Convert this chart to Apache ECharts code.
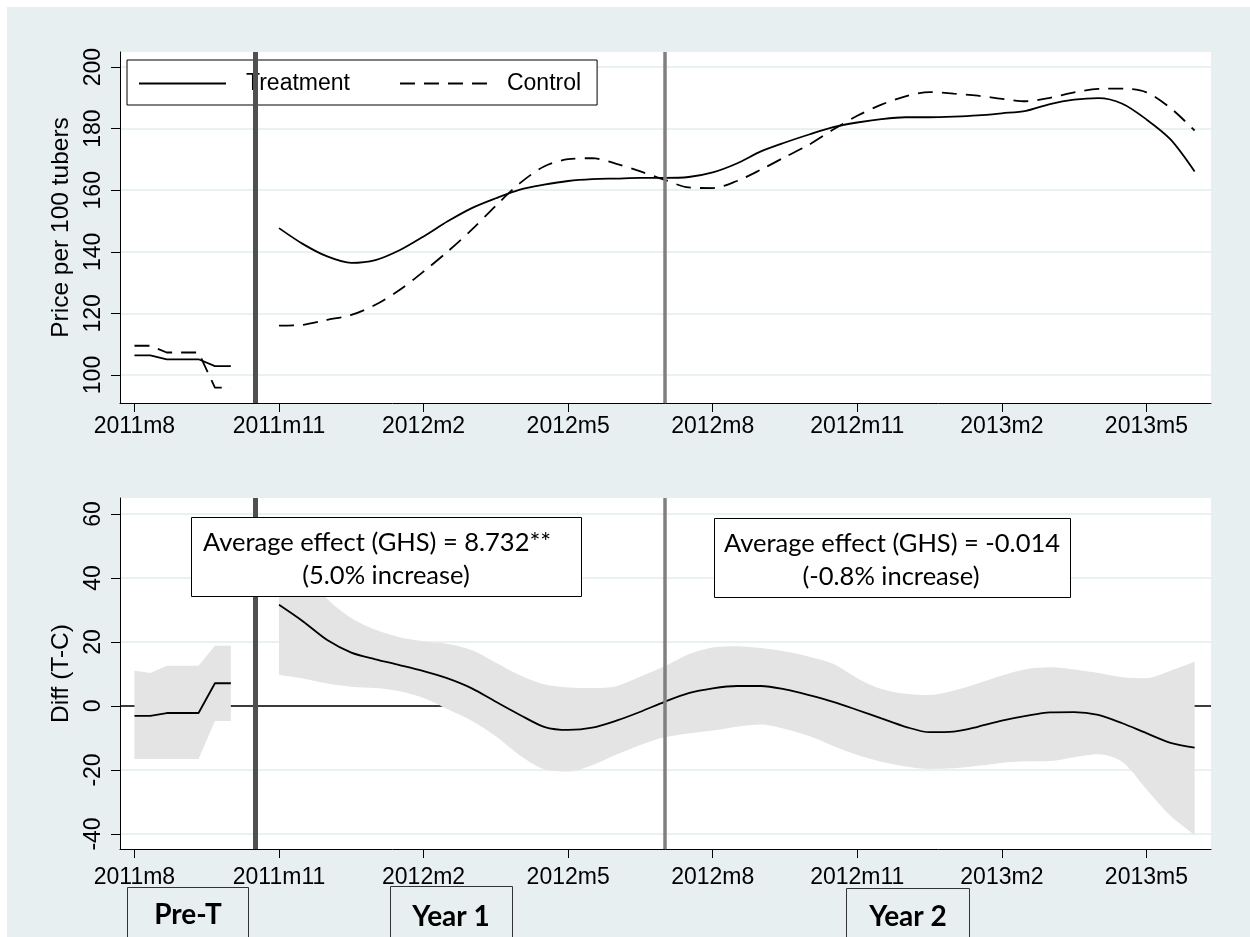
<!DOCTYPE html>
<html><head><meta charset="utf-8">
<script src="https://cdn.jsdelivr.net/npm/echarts@6/dist/echarts.min.js"></script>
<style>
html,body{margin:0;padding:0;background:#fff;}
#chart{width:1250px;height:937px;background:linear-gradient(#e8eff1,#e8eff1) no-repeat 7px 7px/1243px 930px,#fff;}
</style></head><body><div id="chart"></div>
<script>
// x positions are months since 2011m8
const tickMonths = [0, 3, 6, 9, 12, 15, 18, 21];
const tickLabels = ['2011m8', '2011m11', '2012m2', '2012m5', '2012m8', '2012m11', '2013m2', '2013m5'];
const priceTicks = [100, 120, 140, 160, 180, 200];
const diffTicks = [-40, -20, 0, 20, 40, 60];
const treatmentStart = 2.5;   // 2011m10/m11 boundary
const year2Start = 11;        // 2012m7

const preMonths = [0, 0.33, 0.67, 1, 1.33, 1.67, 2];
const treatmentPre = [106.4, 106.4, 105.1, 105.1, 105.1, 102.9, 102.9];
const controlPre = [109.5, 109.5, 107.3, 107.3, 107.3, 95.9, 95.9];
const diffPre = [-3.1, -3.1, -2.2, -2.2, -2.2, 7.1, 7.1];
const upperPre = [11.0, 10.3, 12.6, 12.6, 12.6, 18.8, 18.8];
const lowerPre = [-16.6, -16.6, -16.6, -16.6, -16.6, -4.7, -4.7];

const mainMonths = [3, 3.5, 4, 4.5, 5, 5.5, 6, 6.5, 7, 7.5, 8, 8.5, 9, 9.5, 10, 10.5, 11, 11.5, 12, 12.5,
  13, 13.5, 14, 14.5, 15, 15.5, 16, 16.5, 17, 17.5, 18, 18.5, 19, 19.5, 20, 20.5, 21, 21.5, 22];
const treatmentMain = [147.7, 142.5, 138.5, 136.4, 137.3, 140.5, 145.0, 149.9, 154.2, 157.4, 160.2, 161.8, 163.0, 163.6,
  163.8, 164.0, 164.0, 164.3, 165.8, 168.7, 172.6, 175.5, 178.1, 180.5, 182.0, 183.1, 183.7, 183.7, 183.9, 184.3,
  185.0, 185.8, 188.0, 189.4, 189.9, 188.1, 183.0, 176.5, 166.1];
const controlMain = [116.0, 116.3, 117.9, 119.5, 122.8, 127.6, 133.6, 140.1, 147.2, 155.0, 162.3, 167.7, 170.1, 170.4,
  168.6, 166.1, 163.4, 160.9, 160.7, 163.0, 166.7, 170.8, 174.8, 179.7, 184.2, 187.8, 190.5, 191.9, 191.4, 190.7,
  189.7, 188.9, 190.0, 191.8, 192.9, 193.0, 191.8, 186.7, 179.4];
const diffMain = [31.6, 26.4, 20.6, 16.7, 14.6, 12.8, 10.9, 8.6, 5.5, 1.3, -2.8, -6.5, -7.5, -6.8, -4.6, -1.8, 1.3, 4.0,
  5.5, 6.25, 6.25, 5.2, 3.4, 1.3, -1.25, -3.9, -6.5, -8.2, -8.0, -6.5, -4.6, -3.1, -2.0, -1.9, -2.8, -5.4, -8.5, -11.5, -13.0];
const upperMain = [53.5, 44.0, 33.5, 27.5, 23.8, 21.5, 20.2, 19.4, 17.5, 13.5, 9.6, 6.8, 5.8, 5.6, 6.2, 9.2, 12.4, 16.2,
  18.3, 18.7, 18.1, 17.0, 15.4, 13.2, 8.7, 5.3, 3.8, 3.4, 4.8, 7.0, 9.5, 11.5, 12.1, 11.4, 10.3, 9.0, 8.7, 11.0, 13.8];
const lowerMain = [9.7, 8.6, 7.0, 6.0, 5.6, 4.6, 2.5, -1.0, -4.6, -9.5, -15.5, -19.8, -20.5, -18.5, -15.2, -12.2, -9.8,
  -8.6, -7.7, -6.5, -5.8, -7.2, -9.4, -12.5, -15.3, -17.4, -18.9, -19.7, -19.5, -18.7, -17.8, -17.3, -17.2, -16.0,
  -15.1, -17.5, -26.0, -34.3, -40.3];

const box1 = ['Average effect (GHS) = 8.732**', '(5.0% increase)'];
const box2 = ['Average effect (GHS) = -0.014', '(-0.8% increase)'];
const periodLabels = ['Pre-T', 'Year 1', 'Year 2'];

const pairs = (xs, ys) => xs.map((x, i) => [x, ys[i]]);
// value first, month second (so that stacking acts on the value dimension)
const vpairs = (xs, ys) => xs.map((x, i) => [ys[i], x]);
const widths = (up, lo) => up.map((u, i) => u - lo[i]);

const AX = 'Liberation Sans, Arial, sans-serif';
const lineFont = {fontFamily: AX, fontSize: 23, color: '#000'};

function xAxisCfg(idx, margin) {
  return {
    type: 'value', gridIndex: idx, min: -0.3, max: 22.34,
    axisLine: {show: true, onZero: false, lineStyle: {color: '#000', width: 1}},
    axisTick: {show: true, length: 9, lineStyle: {color: '#000', width: 1}, customValues: tickMonths},
    axisLabel: {show: true, margin: margin, customValues: tickMonths, ...lineFont,
      formatter: v => tickLabels[tickMonths.indexOf(Math.round(v))] || ''},
    splitLine: {show: false}
  };
}
function yAxisCfg(idx, min, max, ticks, name) {
  return {
    type: 'value', gridIndex: idx, min: min, max: max,
    name: name, nameLocation: 'middle', nameRotate: 90, nameGap: 40,
    nameTextStyle: {fontFamily: AX, fontSize: 24.5, color: '#000'},
    axisLine: {show: true, onZero: false, lineStyle: {color: '#000', width: 1}},
    axisTick: {show: true, length: 9, lineStyle: {color: '#000', width: 1}, customValues: ticks},
    axisLabel: {show: true, rotate: 90, margin: 15, customValues: ticks, ...lineFont},
    splitLine: {show: true, lineStyle: {color: '#e3ecef', width: 1.5}}
  };
}

const vLines = [
  {xAxis: treatmentStart, lineStyle: {color: '#505050', width: 5, type: 'solid'}},
  {xAxis: year2Start, lineStyle: {color: '#808080', width: 3.5, type: 'solid'}}
];
const mlBase = {silent: true, symbol: ['none', 'none'], label: {show: false}, animation: false};

const solid = {color: '#000', width: 1.8, type: 'solid'};
const dashed = {color: '#000', width: 1.8, type: [15, 9]};
const band = '#e4e4e4';
const flip = {x: 1, y: 0};

const option = {
  animation: false,
  backgroundColor: 'transparent',
  grid: [
    {left: 120, top: 52, width: 1091, height: 351, show: true, backgroundColor: '#fff', borderWidth: 0},
    {left: 120, top: 498, width: 1091, height: 351, show: true, backgroundColor: '#fff', borderWidth: 0}
  ],
  xAxis: [xAxisCfg(0, 12), xAxisCfg(1, 17)],
  yAxis: [yAxisCfg(0, 90.9, 204.9, priceTicks, 'Price per 100 tubers'),
          yAxisCfg(1, -44.7, 65, diffTicks, 'Diff (T-C)')],
  legend: {
    data: ['Treatment', 'Control'], left: 127, top: 60, orient: 'horizontal',
    padding: [12, 16, 10, 11], itemGap: 49, itemWidth: 87, itemHeight: 14,
    backgroundColor: '#fff', borderColor: '#000', borderWidth: 1,
    itemStyle: {opacity: 0},
    textStyle: {fontFamily: AX, fontSize: 23, color: '#000', padding: [0, 0, 0, 15]},
    selectedMode: false
  },
  series: [
    {name: 'Treatment', type: 'line', xAxisIndex: 0, yAxisIndex: 0, data: pairs(mainMonths, treatmentMain),
      smooth: 0.3, symbol: 'none', lineStyle: solid, itemStyle: {color: '#000'}, z: 3,
      markLine: {...mlBase, z: 5, data: vLines}},
    {name: 'Treatment', type: 'line', xAxisIndex: 0, yAxisIndex: 0, data: pairs(preMonths, treatmentPre),
      smooth: false, symbol: 'none', lineStyle: solid, itemStyle: {color: '#000'}, z: 3},
    {name: 'Control', type: 'line', xAxisIndex: 0, yAxisIndex: 0, data: pairs(mainMonths, controlMain),
      smooth: 0.3, symbol: 'none', lineStyle: dashed, itemStyle: {color: '#000'}, z: 3},
    {name: 'Control', type: 'line', xAxisIndex: 0, yAxisIndex: 0, data: pairs(preMonths, controlPre),
      smooth: false, symbol: 'none', lineStyle: dashed, itemStyle: {color: '#000'}, z: 3},

    // confidence band, main period
    {name: 'lowMain', type: 'line', xAxisIndex: 1, yAxisIndex: 1, data: vpairs(mainMonths, lowerMain), encode: flip,
      stack: 'ciMain', stackStrategy: 'all', smooth: 0.3, symbol: 'none', lineStyle: {width: 0, opacity: 0}, z: 2,
      markLine: {...mlBase, z: 1, data: [{yAxis: 0, lineStyle: {color: '#000', width: 1.5, type: 'solid'}}]}},
    {name: 'bandMain', type: 'line', xAxisIndex: 1, yAxisIndex: 1, data: vpairs(mainMonths, widths(upperMain, lowerMain)), encode: flip,
      stack: 'ciMain', stackStrategy: 'all', smooth: 0.3, symbol: 'none', lineStyle: {width: 0, opacity: 0},
      areaStyle: {color: band, opacity: 1}, z: 2},
    // confidence band, pre period
    {name: 'lowPre', type: 'line', xAxisIndex: 1, yAxisIndex: 1, data: vpairs(preMonths, lowerPre), encode: flip,
      stack: 'ciPre', stackStrategy: 'all', smooth: false, symbol: 'none', lineStyle: {width: 0, opacity: 0}, z: 2},
    {name: 'bandPre', type: 'line', xAxisIndex: 1, yAxisIndex: 1, data: vpairs(preMonths, widths(upperPre, lowerPre)), encode: flip,
      stack: 'ciPre', stackStrategy: 'all', smooth: false, symbol: 'none', lineStyle: {width: 0, opacity: 0},
      areaStyle: {color: band, opacity: 1}, z: 2},
    // difference lines
    {name: 'diffMain', type: 'line', xAxisIndex: 1, yAxisIndex: 1, data: pairs(mainMonths, diffMain),
      smooth: 0.3, symbol: 'none', lineStyle: solid, z: 4,
      markLine: {...mlBase, z: 5, data: vLines}},
    {name: 'diffPre', type: 'line', xAxisIndex: 1, yAxisIndex: 1, data: pairs(preMonths, diffPre),
      smooth: false, symbol: 'none', lineStyle: solid, z: 4}
  ],
  graphic: [
    {type: 'rect', z: 100, shape: {x: 191.5, y: 517.5, width: 390, height: 79},
      style: {fill: '#fff', stroke: '#000', lineWidth: 1}},
    {type: 'text', z: 101, x: 377, y: 543, style: {text: box1[0], fontFamily: 'Lato', fontSize: 25.5, fill: '#000', align: 'center', verticalAlign: 'middle'}},
    {type: 'text', z: 101, x: 386, y: 576, style: {text: box1[1], fontFamily: 'Lato', fontSize: 25.5, fill: '#000', align: 'center', verticalAlign: 'middle'}},
    {type: 'rect', z: 100, shape: {x: 714.5, y: 518.5, width: 356, height: 79},
      style: {fill: '#fff', stroke: '#000', lineWidth: 1}},
    {type: 'text', z: 101, x: 892, y: 544, style: {text: box2[0], fontFamily: 'Lato', fontSize: 25.5, fill: '#000', align: 'center', verticalAlign: 'middle'}},
    {type: 'text', z: 101, x: 891, y: 577, style: {text: box2[1], fontFamily: 'Lato', fontSize: 25.5, fill: '#000', align: 'center', verticalAlign: 'middle'}},

    {type: 'rect', z: 100, shape: {x: 127.5, y: 887.5, width: 121, height: 70}, style: {fill: 'none', stroke: '#333', lineWidth: 1}},
    {type: 'text', z: 101, x: 188, y: 915, style: {text: periodLabels[0], fontFamily: 'Lato', fontWeight: 'bold', fontSize: 28, fill: '#000', align: 'center', verticalAlign: 'middle'}},
    {type: 'rect', z: 100, shape: {x: 390.5, y: 886.5, width: 122, height: 70}, style: {fill: 'none', stroke: '#333', lineWidth: 1}},
    {type: 'text', z: 101, x: 451, y: 917, style: {text: periodLabels[1], fontFamily: 'Lato', fontWeight: 'bold', fontSize: 28, fill: '#000', align: 'center', verticalAlign: 'middle'}},
    {type: 'rect', z: 100, shape: {x: 846.5, y: 888.5, width: 123, height: 70}, style: {fill: 'none', stroke: '#333', lineWidth: 1}},
    {type: 'text', z: 101, x: 908, y: 917, style: {text: periodLabels[2], fontFamily: 'Lato', fontWeight: 'bold', fontSize: 28, fill: '#000', align: 'center', verticalAlign: 'middle'}}
  ]
};
const chart = echarts.init(document.getElementById('chart'), null, {renderer: 'canvas'});
chart.setOption(option);
</script></body></html>
